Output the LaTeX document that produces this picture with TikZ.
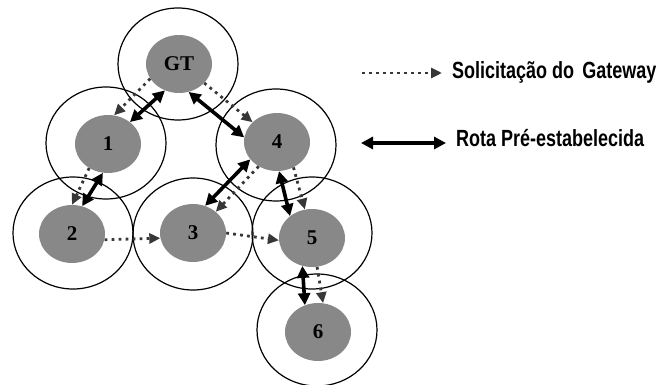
\documentclass[tikz,border=0pt]{standalone}
\usepackage{fontspec}
\usepackage{graphicx}
\setmainfont{Liberation Serif}
\setsansfont{Liberation Sans}
\usetikzlibrary{shapes.geometric,arrows.meta}
\definecolor{nodegray}{RGB}{136,136,136}
\definecolor{reqgray}{RGB}{55,55,55}
\tikzset{
  coverring/.style={ellipse,draw=black,line width=1.2pt,minimum width=120pt,minimum height=112pt,inner sep=0pt},
  mote/.style={ellipse,fill=nodegray,minimum width=66pt,minimum height=58pt,inner sep=0pt,
    font=\fontsize{21}{24}\selectfont\bfseries},
  request/.style={draw=reqgray,line width=2.8pt,dash pattern=on 2.8pt off 4.2pt,
    -{Triangle[length=11pt,width=10pt,fill=reqgray]}},
  route/.style={draw=black,line width=3.6pt,{Triangle[length=12pt,width=12pt]}-{Triangle[length=12pt,width=12pt]}},
  legendtext/.style={anchor=west,inner sep=0pt,font=\sffamily\bfseries\fontsize{18}{22}\selectfont}
}
\begin{document}
\begin{tikzpicture}[x=1pt,y=-1pt]
\useasboundingbox (0,0) rectangle (656,385);
% coverage ranges
\node[coverring] (o0) at (178,64) {};
\node[coverring] (o1) at (106,143) {};
\node[coverring] (o4) at (276,145) {};
\node[coverring] (o2) at (73,233) {};
\node[coverring] (o3) at (193,234) {};
\node[coverring] (o5) at (312,233) {};
\node[coverring] (o6) at (317,330) {};
% motes
\node[mote] (gt) at (179,64) {GT};
\node[mote] (n1) at (108,144) {1};
\node[mote] (n2) at (72,234) {2};
\node[mote] (n3) at (193,233) {3};
\node[mote] (n4) at (277,142) {4};
\node[mote] (n5) at (312,238) {5};
\node[mote] (n6) at (318,332) {6};
% gateway requests
\draw[request] (gt.207) -- (n1.78);
\draw[request] (gt.323) -- (n4.141);
\draw[request] (n1.232) -- (n2.90);
\draw[request] (n2.350) -- (n3.189);
\draw[request] (n4.233) -- (n3.43);
\draw[request] (n3.0) -- (n5.184);
\draw[request] (n4.303) -- (n5.104);
\draw[request] (n5.280) -- (n6.80);
% pre-established routes
\draw[route] (gt.242) -- (n1.45);
\draw[route] (gt.289) -- (n4.172);
\draw[route] (n1.260) -- (n2.70);
\draw[route] (n4.213) -- (n3.66);
\draw[route] (n4.274) -- (n5.135);
\draw[route] (n5.251) -- (n6.116);
% legend
\coordinate (l1a) at (362,73);
\coordinate (l1b) at (442,73);
\coordinate (l2a) at (361,143);
\coordinate (l2b) at (446,143);
\draw[request] (l1a) -- (l1b);
\draw[route] (l2a) -- (l2b);
\node[legendtext] (t1) at (452,72) {\scalebox{1}[1.3]{Solicitação do\hspace{0.45em}Gateway}};
\node[legendtext] (t2) at (456,138) {\scalebox{1}[1.3]{Rota Pré-estabelecida}};
\end{tikzpicture}
\end{document}
